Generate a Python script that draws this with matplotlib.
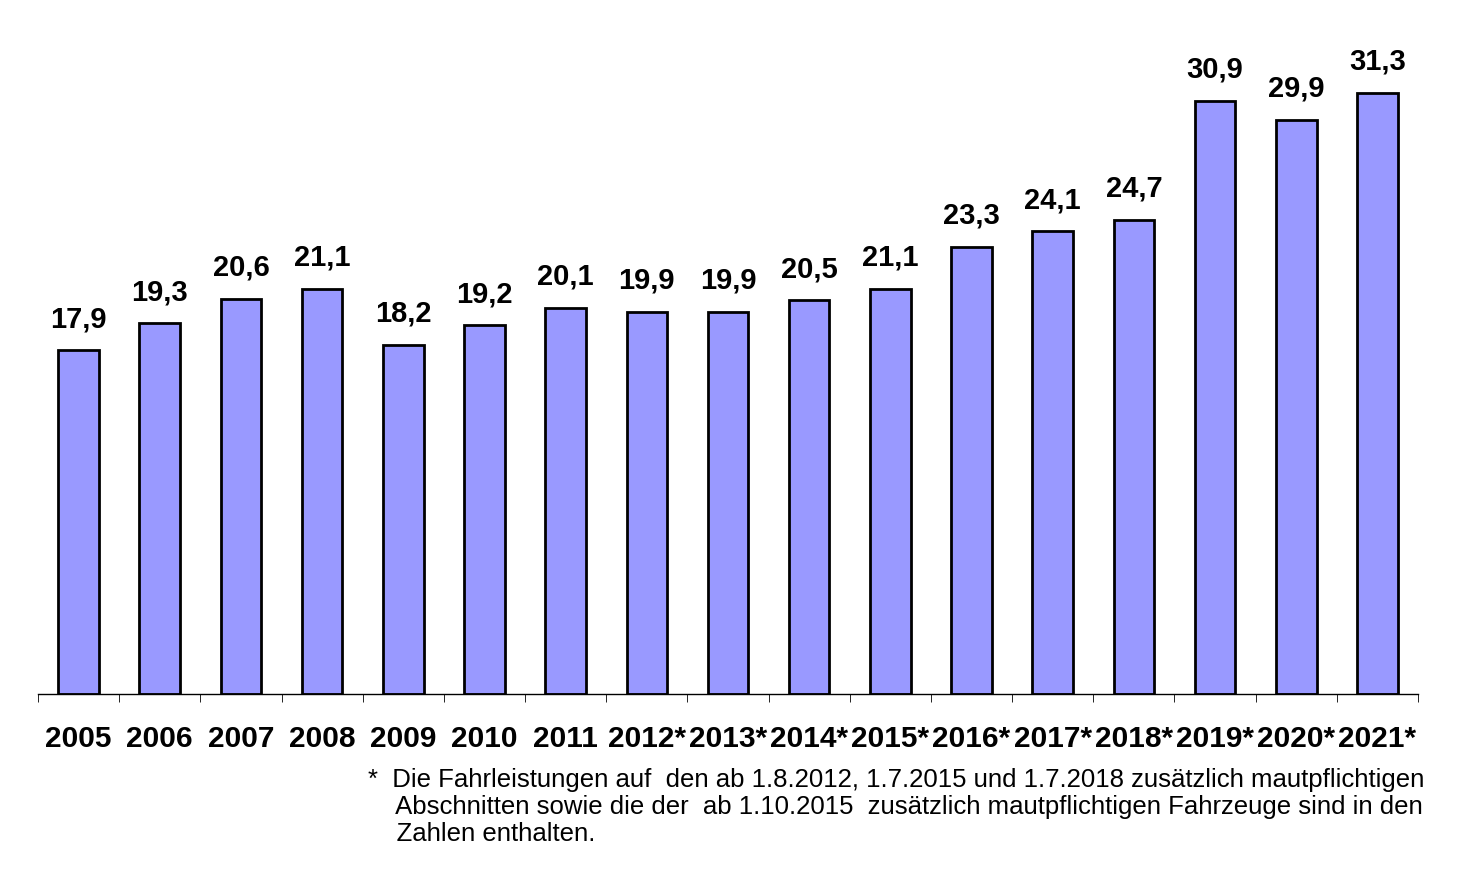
import numpy as np
import matplotlib.pyplot as plt

years = ['2005', '2006', '2007', '2008', '2009', '2010', '2011', '2012*', '2013*',
         '2014*', '2015*', '2016*', '2017*', '2018*', '2019*', '2020*', '2021*']
values = [17.9, 19.3, 20.6, 21.1, 18.2, 19.2, 20.1, 19.9, 19.9,
          20.5, 21.1, 23.3, 24.1, 24.7, 30.9, 29.9, 31.3]

plt.rcParams['font.family'] = 'Liberation Sans'

fig = plt.figure(figsize=(14.59, 8.76), dpi=100)
ax = fig.add_axes([38 / 1459, 1 - 694 / 876, 1380 / 1459, 694 / 876])

x = np.arange(len(years))
ax.bar(x, values, width=0.5, color='#9999FF', edgecolor='black', linewidth=2)
for xi, v in zip(x, values):
    ax.text(xi, v + 0.9, f'{v:.1f}'.replace('.', ','), ha='center', va='bottom',
            fontsize=21, fontweight='bold')

ax.set_xlim(-0.5, len(years) - 0.5)
ax.set_ylim(0, 36.15)
ax.set_yticks([])
for s in ['top', 'right', 'left']:
    ax.spines[s].set_visible(False)
ax.spines['bottom'].set_linewidth(1)

ax.set_xticks(x)
ax.set_xticklabels(years, fontsize=21.5, fontweight='bold')
ax.tick_params(axis='x', which='major', length=0, pad=22)
ax.set_xticks(np.arange(-0.5, len(years)), minor=True)
ax.tick_params(axis='x', which='minor', length=6, direction='out')

fig.text(368 / 1459, 1 - 768 / 876,
         '*  Die Fahrleistungen auf  den ab 1.8.2012, 1.7.2015 und 1.7.2018 zusätzlich mautpflichtigen\n'
         '    Abschnitten sowie die der  ab 1.10.2015  zusätzlich mautpflichtigen Fahrzeuge sind in den\n'
         '    Zahlen enthalten.',
         fontsize=18.5, va='top', ha='left', linespacing=1.15)

fig.savefig('out.png', dpi=100)
